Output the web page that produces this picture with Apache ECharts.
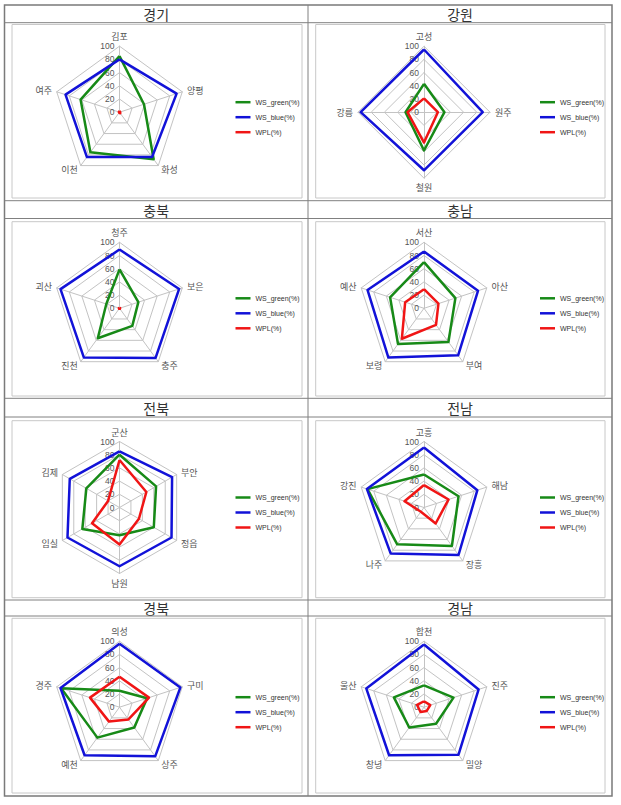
<!DOCTYPE html>
<html><head><meta charset="utf-8">
<script src="https://cdn.jsdelivr.net/npm/echarts@6/dist/echarts.min.js"></script>
<style>html,body{margin:0;padding:0;background:#fff}#c{width:621px;height:805px}</style>
</head><body><div id="c"></div>
<script>
// ---- data ----
const seriesNames = ['WS_green(%)', 'WS_blue(%)', 'WPL(%)'];
const regions = ['경기', '강원', '충북', '충남', '전북', '전남', '경북', '경남'];

const cats_gyeonggi = ['김포', '양평', '화성', '이천', '여주'];
const green_gyeonggi = [85, 39, 88, 75, 62];
const blue_gyeonggi = [80, 91, 84, 84, 86];
const wpl_gyeonggi = [2, 1, 2, 1, 1];

const cats_gangwon = ['고성', '원주', '철원', '강릉'];
const green_gangwon = [43, 31, 58, 28];
const blue_gangwon = [95, 89, 88, 96];
const wpl_gangwon = [21, 21, 46, 25];

const cats_chungbuk = ['청주', '보은', '충주', '진천', '괴산'];
const green_chungbuk = [59, 30, 33, 56, 21];
const blue_chungbuk = [89, 95, 93, 92, 94];
const wpl_chungbuk = [1, 1, 1, 1, 1];

const cats_chungnam = ['서산', '아산', '부여', '보령', '예산'];
const green_chungnam = [70, 50, 63, 67, 54];
const blue_chungnam = [86, 86, 88, 92, 90];
const wpl_chungnam = [29, 23, 31, 57, 30];

const cats_jeonbuk = ['군산', '부안', '정읍', '남원', '임실', '김제'];
const green_jeonbuk = [80, 64, 60, 42, 65, 58];
const blue_jeonbuk = [85, 92, 91, 89, 91, 87];
const wpl_jeonbuk = [72, 47, 34, 56, 48, 20];

const cats_jeonnam = ['고흥', '해남', '장흥', '나주', '강진'];
const green_jeonnam = [50, 55, 72, 69, 90];
const blue_jeonnam = [91, 85, 89, 86, 91];
const wpl_jeonnam = [34, 39, 30, 8, 31];

const cats_gyeongbuk = ['의성', '구미', '상주', '예천', '경주'];
const green_gyeongbuk = [25, 44, 38, 57, 93];
const blue_gyeongbuk = [96, 97, 92, 90, 94];
const wpl_gyeongbuk = [46, 47, 23, 27, 47];

const cats_gyeongnam = ['합천', '진주', '밀양', '창녕', '울산'];
const green_gyeongnam = [33, 47, 31, 38, 48];
const blue_gyeongnam = [95, 87, 89, 90, 92];
const wpl_gyeongnam = [9, 10, 7, 9, 11];

const axisTicks = [0, 20, 40, 60, 80, 100];

// ---- build ----
const panels = [
  [cats_gyeonggi, green_gyeonggi, blue_gyeonggi, wpl_gyeonggi],
  [cats_gangwon, green_gangwon, blue_gangwon, wpl_gangwon],
  [cats_chungbuk, green_chungbuk, blue_chungbuk, wpl_chungbuk],
  [cats_chungnam, green_chungnam, blue_chungnam, wpl_chungnam],
  [cats_jeonbuk, green_jeonbuk, blue_jeonbuk, wpl_jeonbuk],
  [cats_jeonnam, green_jeonnam, blue_jeonnam, wpl_jeonnam],
  [cats_gyeongbuk, green_gyeongbuk, blue_gyeongbuk, wpl_gyeongbuk],
  [cats_gyeongnam, green_gyeongnam, blue_gyeongnam, wpl_gyeongnam]
];
const colors = ['#178a17', '#1212d8', '#f01515'];
const centersX = [119.5, 424];
const centersY = [112.2, 308.3, 507.5, 707.2];
const colCenter = [156.2, 460];
const headerY = [13.8, 209.6, 407.7, 608];
const hLines = [22.7, 200.7, 218.5, 398.3, 417, 600, 616];
const boxCols = [[12, 302], [315.7, 605]];
const boxRows = [[24.5, 198], [221.7, 396], [420.7, 597.7], [618.3, 793]];

const radar = [], series = [], legend = [], graphic = [];
const gray = '#c3c3c3';

panels.forEach((p, i) => {
  const cats = p[0];
  const n = cats.length;
  // ECharts lays indicators counter-clockwise; Excel order is clockwise
  const order = [0];
  for (let k = n - 1; k >= 1; k--) order.push(k);
  const cx = centersX[i % 2], cy = centersY[Math.floor(i / 2)];
  radar.push({
    center: [cx, cy], radius: 66, startAngle: 90, shape: 'polygon',
    splitNumber: axisTicks.length - 1,
    nameGap: 5,
    indicator: order.map((k, j) => ({ name: cats[k], min: axisTicks[0], max: axisTicks[axisTicks.length - 1], axisLabel: { show: j === 0 } })),
    axisName: { color: '#555', fontSize: 9, fontFamily: 'Noto Sans CJK KR' },
    axisLine: { lineStyle: { color: gray, width: 1 } },
    splitLine: { lineStyle: { color: gray, width: 1 } },
    splitArea: { show: false },
    axisTick: { show: false },
    axisLabel: { show: false, fontSize: 8.5, color: '#555', margin: 5, fontFamily: 'Liberation Sans' }
  });
  series.push({
    type: 'radar', radarIndex: i, symbol: 'none', silent: true,
    data: seriesNames.map((nm, s) => ({
      name: nm,
      value: order.map(k => p[s + 1][k]),
      lineStyle: { color: colors[s], width: 2.5 },
      itemStyle: { color: colors[s] }
    }))
  });
  legend.push({
    orient: 'vertical', left: cx + 111, top: cy - 15 - 4.5,
    data: seriesNames, icon: 'rect', itemWidth: 15, itemHeight: 2.5, itemGap: 6,
    selectedMode: false,
    textStyle: { fontSize: 7, color: '#333', lineHeight: 9, fontFamily: 'Liberation Sans' }
  });
  graphic.push({
    type: 'text', x: colCenter[i % 2], y: headerY[Math.floor(i / 2)],
    style: { text: regions[i], align: 'center', verticalAlign: 'middle', fill: '#333', font: '14px "Noto Sans CJK KR"' }
  });
});

// table frame
graphic.push({ type: 'rect', shape: { x: 4.5, y: 5, width: 607.5, height: 791 }, style: { fill: 'none', stroke: '#7a7a7a', lineWidth: 1.5 }, z: 10 });
graphic.push({ type: 'line', shape: { x1: 308, y1: 5, x2: 308, y2: 796 }, style: { stroke: '#808080', lineWidth: 1 }, z: 10 });
hLines.forEach(y => graphic.push({ type: 'line', shape: { x1: 4.5, y1: y, x2: 612, y2: y }, style: { stroke: '#808080', lineWidth: 1 }, z: 10 }));
boxRows.forEach(r => boxCols.forEach(c => graphic.push({
  type: 'rect', shape: { x: c[0], y: r[0], width: c[1] - c[0], height: r[1] - r[0] },
  style: { fill: 'none', stroke: '#c8c8c8', lineWidth: 1 }, z: 1
})));

const chart = echarts.init(document.getElementById('c'), null, { renderer: 'svg' });
chart.setOption({ animation: false, backgroundColor: '#fff', radar, series, legend, graphic });
</script>
</body></html>
